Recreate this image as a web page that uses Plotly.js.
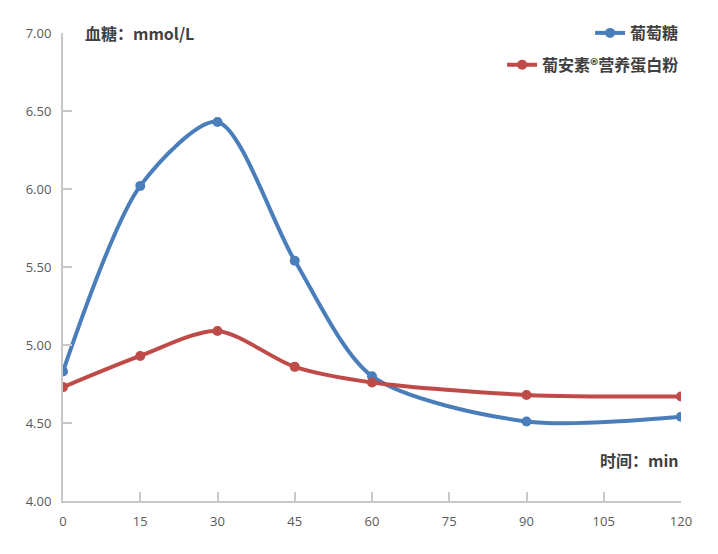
<!DOCTYPE html>
<html>
<head>
<meta charset="utf-8">
<script src="https://cdn.plot.ly/plotly-3.0.1.min.js"></script>
<style>
  html, body { margin: 0; padding: 0; background: #fff; }
  #chart { width: 718px; height: 554px; }
</style>
</head>
<body>
<div id="chart"></div>
<script>
// time points (min)
var minutes = [0, 15, 30, 45, 60, 90, 120];
var glucose = [4.83, 6.02, 6.43, 5.54, 4.80, 4.51, 4.54];
var ensure = [4.73, 4.93, 5.09, 4.86, 4.76, 4.68, 4.67];
var seriesNames = ['葡萄糖', '葡安素®营养蛋白粉'];
var xTicks = [0, 15, 30, 45, 60, 75, 90, 105, 120];
var yTicks = [4, 4.5, 5, 5.5, 6, 6.5, 7];

var cjk = '"Noto Sans CJK SC", "Noto Sans", sans-serif';

var blue = {
    x: minutes,
    y: glucose,
    name: seriesNames[0],
    type: 'scatter',
    mode: 'lines+markers',
    line: {color: '#4a7ebb', width: 4, shape: 'spline', smoothing: 0.8},
    marker: {color: '#4a7ebb', size: 10},
    legend: 'legend'
};

var red = {
    x: minutes,
    y: ensure,
    name: seriesNames[1],
    type: 'scatter',
    mode: 'lines+markers',
    line: {color: '#be4b48', width: 4, shape: 'spline', smoothing: 0.8},
    marker: {color: '#be4b48', size: 10},
    legend: 'legend2'
};

var axisCol = '#c8c8c8';

var layout = {
    width: 718,
    height: 554,
    margin: {l: 63, r: 37, t: 33, b: 53},
    paper_bgcolor: '#fff',
    plot_bgcolor: '#fff',
    font: {family: '"Open Sans", sans-serif', size: 13, color: '#595959'},
    xaxis: {
        range: [0, 120],
        tickvals: xTicks,
        ticktext: xTicks.map(String),
        showgrid: false,
        zeroline: false,
        showline: true,
        linecolor: axisCol,
        linewidth: 2,
        ticks: 'inside',
        ticklen: 9,
        tickwidth: 2,
        tickcolor: axisCol,
        ticklabelstandoff: 7,
        tickfont: {size: 13, color: '#595959'}
    },
    yaxis: {
        range: [4, 7],
        tickvals: yTicks,
        ticktext: yTicks.map(function(v) { return v.toFixed(2); }),
        showgrid: false,
        zeroline: false,
        showline: true,
        linecolor: axisCol,
        linewidth: 2,
        ticks: 'inside',
        ticklen: 9,
        tickwidth: 2,
        tickcolor: axisCol,
        ticklabelstandoff: 7,
        tickfont: {size: 13, color: '#595959'}
    },
    legend: {
        x: 1.005, xanchor: 'right',
        y: 1.0, yanchor: 'middle',
        bgcolor: 'rgba(0,0,0,0)',
        font: {family: cjk, size: 16, color: '#404040', weight: 'bold'}
    },
    legend2: {
        x: 1.005, xanchor: 'right',
        y: 0.932, yanchor: 'middle',
        bgcolor: 'rgba(0,0,0,0)',
        font: {family: cjk, size: 16, color: '#404040', weight: 'bold'}
    },
    showlegend: true,
    annotations: [
        {
            text: '<b>血糖：mmol/L</b>',
            xref: 'paper', yref: 'paper',
            x: 0.032, y: 1.0, xanchor: 'left', yanchor: 'middle',
            showarrow: false,
            font: {family: cjk, size: 16, color: '#404040'}
        },
        {
            text: '<b>时间：min</b>',
            xref: 'paper', yref: 'paper',
            x: 1.0, y: 0.088, xanchor: 'right', yanchor: 'middle',
            showarrow: false,
            font: {family: cjk, size: 16, color: '#404040'}
        }
    ]
};

Plotly.newPlot('chart', [blue, red], layout, {displayModeBar: false, staticPlot: true});
</script>
</body>
</html>
